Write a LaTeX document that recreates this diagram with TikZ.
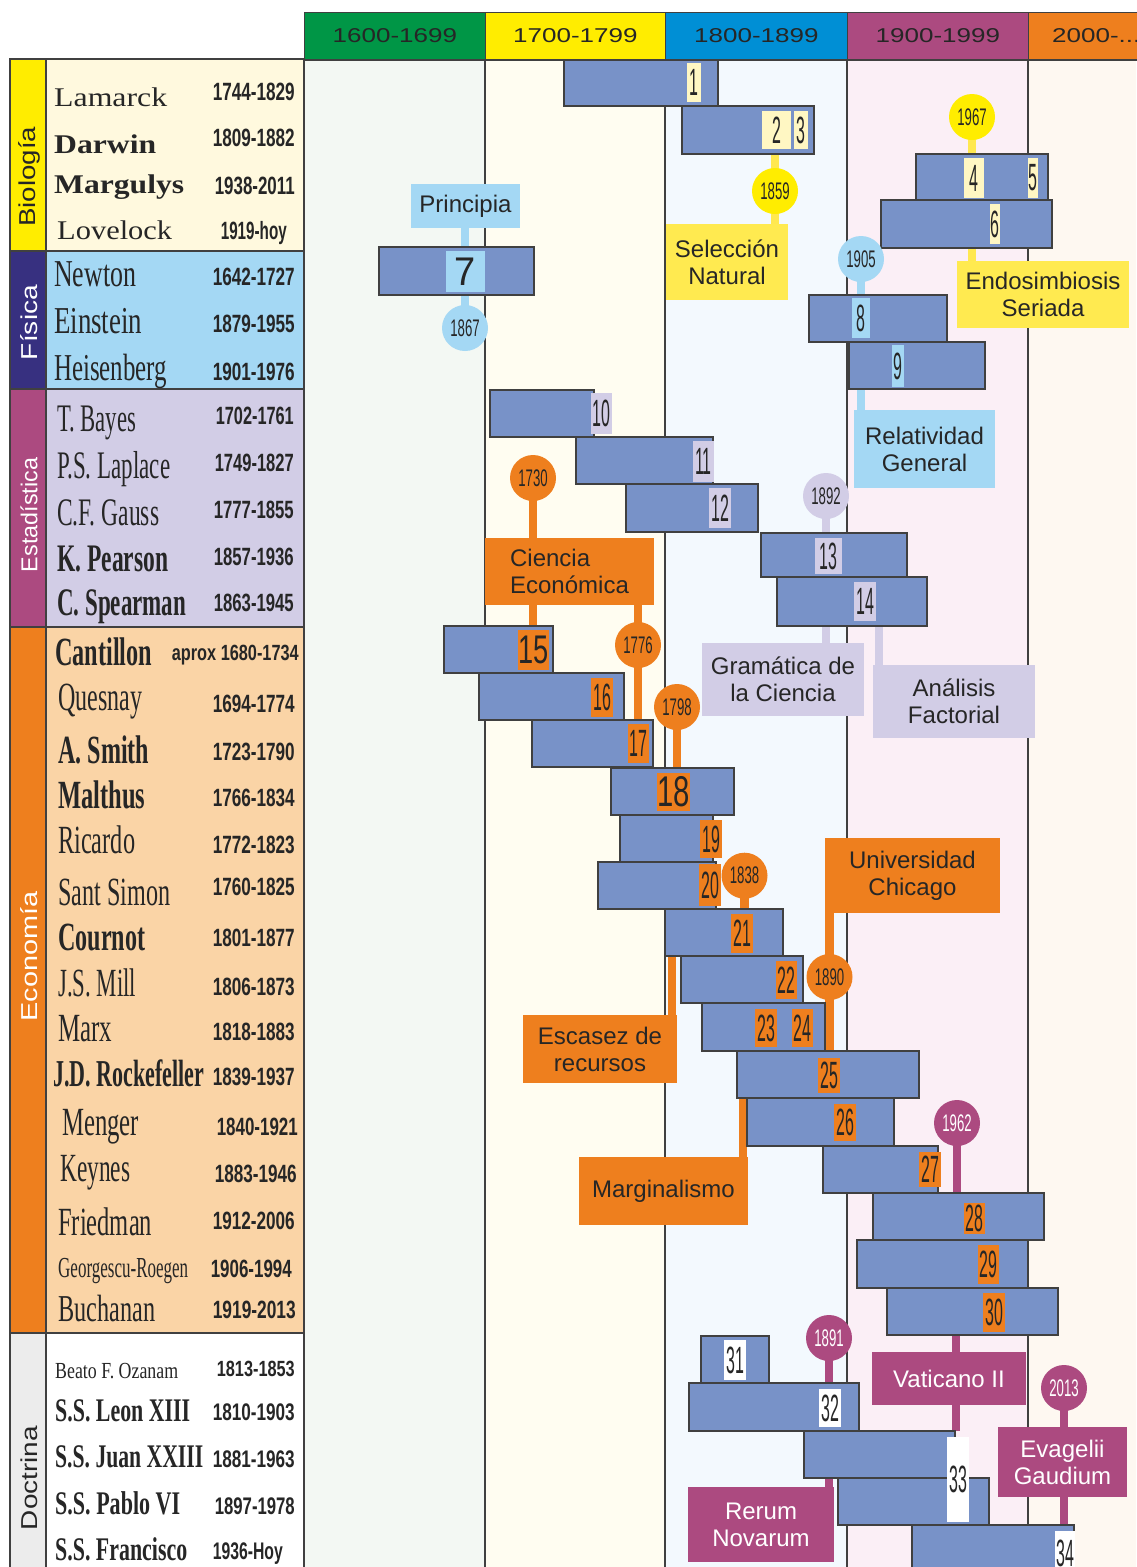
\documentclass[tikz,border=0pt]{standalone}
\usepackage{fontspec}
\setmainfont{Liberation Serif}
\setsansfont{Liberation Sans}
\usepackage{graphicx}
\definecolor{hG}{RGB}{0,150,70}
\definecolor{hY}{RGB}{255,237,0}
\definecolor{hB}{RGB}{0,143,213}
\definecolor{hP}{RGB}{172,74,128}
\definecolor{hO}{RGB}{238,127,30}
\definecolor{bgA}{RGB}{243,248,243}
\definecolor{bgB}{RGB}{255,253,241}
\definecolor{bgC}{RGB}{243,249,254}
\definecolor{bgD}{RGB}{251,239,246}
\definecolor{bgE}{RGB}{254,248,241}
\definecolor{barc}{RGB}{120,146,200}
\definecolor{bord}{RGB}{64,64,64}
\definecolor{cream}{RGB}{255,247,195}
\definecolor{lblue}{RGB}{164,216,244}
\definecolor{lav}{RGB}{210,205,230}
\definecolor{ora}{RGB}{238,127,30}
\definecolor{pur}{RGB}{172,74,128}
\definecolor{yel}{RGB}{255,237,0}
\definecolor{ybox}{RGB}{255,234,80}
\definecolor{ystem}{RGB}{255,232,80}
\definecolor{bioBg}{RGB}{255,249,222}
\definecolor{fisBar}{RGB}{55,48,128}
\definecolor{ecoBg}{RGB}{250,212,166}
\definecolor{docBar}{RGB}{236,236,236}
\definecolor{txt}{RGB}{38,38,38}
\pgfdeclarelayer{back}
\pgfdeclarelayer{stems}
\pgfsetlayers{back,stems,main}
\newcommand\boxf{\fontsize{24}{27}\selectfont\sffamily}
\tikzset{
 barst/.style={draw=bord, fill=barc, line width=1.3pt, inner sep=0pt, outer sep=0pt, anchor=north west},
 lbl/.style={inner sep=0pt, outer sep=0pt, anchor=north west, text=txt},
 boxst/.style={inner sep=0pt, outer sep=0pt, anchor=north west, align=center, text=txt, font=\boxf},
 circ/.style={circle, minimum size=46pt, inner sep=0pt, outer sep=0pt, text=txt},
 stemst/.style={line width=8.5pt},
 hcell/.style={anchor=north west, minimum height=47pt, draw=bord, line width=0.8pt, inner sep=0pt, text=txt},
 panel/.style={draw=bord, line width=1.3pt},
 colline/.style={draw=bord, line width=1.3pt},
 nmst/.style={anchor=base west, inner sep=0pt, text=txt},
 dtst/.style={anchor=base east, inner sep=0pt, text=txt},
}
\newcommand\tbar[5]{\node[barst, minimum width={(#4-#2)*1pt}, minimum height={(#5-#3)*1pt}] (#1) at (#2,#3) {};}
\newcommand\tlab[7]{\node[lbl, fill=#6, minimum width={(#4-#2)*1pt}, minimum height={(#5-#3)*1pt}] (#1) at (#2,#3) {#7};}
\newcommand\tbox[7]{\node[boxst, #6, minimum width={(#4-#2)*1pt}, minimum height={(#5-#3)*1pt}] (#1) at (#2,#3) {#7};}
\newcommand\nb[1]{\scalebox{0.42}[1]{\fontsize{38}{38}\selectfont\sffamily #1}}
\newcommand\nbig[3]{\scalebox{#1}[1]{\fontsize{#2}{#2}\selectfont\sffamily #3}}
\newcommand\yr[1]{\scalebox{0.55}[1]{\fontsize{24}{24}\selectfont\sffamily #1}}
\newcommand\htx[1]{\scalebox{1.3}[1]{\fontsize{20}{20}\selectfont\sffamily #1}}
\newcommand\nm[6]{\node[nmst] (#1) at (#2,#3) {\resizebox{#4pt}{\height}{\fontsize{#5}{#5}\selectfont #6}};}
\newcommand\dt[6]{\node[dtst] (#1) at (#2,#3) {\resizebox{#4pt}{\height}{\fontsize{#5}{#5}\selectfont\sffamily\bfseries #6}};}
\begin{document}
\begin{tikzpicture}[x=1pt,y=-1pt]
\clip (0,0) rectangle (1136,1567);
\begin{pgfonlayer}{back}
\fill[white] (0,0) rectangle (1136,1567);
\fill[bgA] (304,60) rectangle (485,1567);
\fill[bgB] (485,60) rectangle (665,1567);
\fill[bgC] (665,60) rectangle (847,1567);
\fill[bgD] (847,60) rectangle (1028,1567);
\fill[bgE] (1028,60) rectangle (1136,1567);
\draw[colline] (304,60) -- (1140,60);
\foreach \xx in {485,665,847,1028} {\draw[colline] (\xx,60) -- (\xx,1570);}
% header
\node[hcell, fill=hG, minimum width=181pt] (h1) at (304,12) {\htx{1600-1699}};
\node[hcell, fill=hY, minimum width=180pt] (h2) at (485,12) {\htx{1700-1799}};
\node[hcell, fill=hB, minimum width=182pt] (h3) at (665,12) {\htx{1800-1899}};
\node[hcell, fill=hP, minimum width=181pt] (h4) at (847,12) {\htx{1900-1999}};
\node[hcell, fill=hO, minimum width=120pt] (h5) at (1028,12) {};
\node[anchor=west, inner sep=0pt, text=txt] (h5t) at (1052,35.5) {\htx{2000-...}};
% left panel
\draw[panel, fill=yel] (10,59) rectangle (46,251);
\draw[panel, fill=bioBg] (46,59) rectangle (304,251);
\draw[panel, fill=fisBar] (10,251) rectangle (46,389);
\draw[panel, fill=lblue] (46,251) rectangle (304,389);
\draw[panel, fill=pur] (10,389) rectangle (46,627);
\draw[panel, fill=lav] (46,389) rectangle (304,627);
\draw[panel, fill=ora] (10,627) rectangle (46,1333);
\draw[panel, fill=ecoBg] (46,627) rectangle (304,1333);
\draw[panel, fill=docBar] (10,1333) rectangle (46,1572);
\draw[panel, fill=white] (46,1333) rectangle (304,1572);
\end{pgfonlayer}
% category labels
\node[rotate=90, inner sep=0pt, text=txt] (kB) at (29,176.7) {\resizebox{100pt}{\height}{\fontsize{23}{23}\selectfont\sffamily Biología}};
\node[rotate=90, inner sep=0pt, text=white] (kF) at (29,322.5) {\resizebox{75pt}{\height}{\fontsize{23}{23}\selectfont\sffamily Física}};
\node[rotate=90, inner sep=0pt, text=white] (kE) at (29,515) {\resizebox{114pt}{\height}{\fontsize{23}{23}\selectfont\sffamily Estadística}};
\node[rotate=90, inner sep=0pt, text=white] (kC) at (29,956.5) {\resizebox{130pt}{\height}{\fontsize{23}{23}\selectfont\sffamily Economía}};
\node[rotate=90, inner sep=0pt, text=txt] (kD) at (29,1478) {\resizebox{104pt}{\height}{\fontsize{23}{23}\selectfont\sffamily Doctrina}};
% names
\nm{n1}{54}{106.7}{113}{27}{Lamarck}
\nm{n2}{54}{153}{102}{27}{\bfseries Darwin}
\nm{n3}{54}{193.3}{130}{27}{\bfseries Margulys}
\nm{n4}{57}{239.3}{115}{27}{Lovelock}
\nm{n5}{54}{286.7}{82}{38}{Newton}
\nm{n6}{54}{333.3}{88}{38}{Einstein}
\nm{n7}{54}{380}{113}{38}{Heisenberg}
\nm{n8}{57}{431.7}{79}{39}{T. Bayes}
\nm{n9}{57}{478.3}{113}{39}{P.S. Laplace}
\nm{n10}{57}{525}{102}{39}{C.F. Gauss}
\nm{n11}{57}{571.7}{111}{39}{\bfseries K. Pearson}
\nm{n12}{57}{615}{129}{39}{\bfseries C. Spearman}
\nm{n13}{55}{665}{97}{40}{\bfseries Cantillon}
\nm{n14}{58}{710}{84}{40}{Quesnay}
\nm{n15}{58}{763.3}{91}{40}{\bfseries A. Smith}
\nm{n16}{58}{808.3}{87}{40}{\bfseries Malthus}
\nm{n17}{58}{853.3}{77}{40}{Ricardo}
\nm{n18}{58}{905}{112}{40}{Sant Simon}
\nm{n19}{58}{950}{87}{40}{\bfseries Cournot}
\nm{n20}{58}{996.7}{78}{40}{J.S. Mill}
\nm{n21}{58}{1041.7}{54}{40}{Marx}
\nm{n22}{53}{1086.7}{151}{38}{\bfseries J.D. Rockefeller}
\nm{n23}{62}{1135}{77}{40}{Menger}
\nm{n24}{60}{1181.7}{70}{40}{Keynes}
\nm{n25}{58}{1235}{94}{40}{Friedman}
\nm{n26}{58}{1277.3}{130}{29}{Georgescu-Roegen}
\nm{n27}{58}{1321.7}{97}{38}{Buchanan}
\nm{n28}{55}{1378}{123}{23}{Beato F. Ozanam}
\nm{n29}{55}{1421}{135}{33}{\bfseries S.S. Leon XIII}
\nm{n30}{55}{1467.5}{148}{33}{\bfseries S.S. Juan XXIII}
\nm{n31}{55}{1514.5}{125}{33}{\bfseries S.S. Pablo VI}
\nm{n32}{55}{1560}{132}{33}{\bfseries S.S. Francisco}
% dates
\dt{d1}{295}{100}{82}{25}{1744-1829}
\dt{d2}{295}{146.7}{82}{25}{1809-1882}
\dt{d3}{295}{194.3}{80}{25}{1938-2011}
\dt{d4}{287}{239.3}{66}{25}{1919-hoy}
\dt{d5}{295}{285.7}{82}{25}{1642-1727}
\dt{d6}{295}{332.7}{82}{25}{1879-1955}
\dt{d7}{295}{380}{82}{25}{1901-1976}
\dt{d8}{294}{424.3}{78}{25}{1702-1761}
\dt{d9}{294}{471}{79}{25}{1749-1827}
\dt{d10}{294}{518.3}{80}{25}{1777-1855}
\dt{d11}{294}{565}{80}{25}{1857-1936}
\dt{d12}{294}{611.7}{80}{25}{1863-1945}
\dt{d13}{299}{660.7}{127}{22}{aprox 1680-1734}
\dt{d14}{295}{712.7}{82}{25}{1694-1774}
\dt{d15}{295}{760}{82}{25}{1723-1790}
\dt{d16}{295}{806.7}{82}{25}{1766-1834}
\dt{d17}{295}{853.3}{82}{25}{1772-1823}
\dt{d18}{295}{895}{82}{25}{1760-1825}
\dt{d19}{295}{946.7}{82}{25}{1801-1877}
\dt{d20}{295}{995}{82}{25}{1806-1873}
\dt{d21}{295}{1040}{82}{25}{1818-1883}
\dt{d22}{295}{1085}{82}{25}{1839-1937}
\dt{d23}{298}{1135.7}{81}{25}{1840-1921}
\dt{d24}{297}{1182.3}{82}{25}{1883-1946}
\dt{d25}{295}{1229.3}{82}{25}{1912-2006}
\dt{d26}{292}{1277.3}{81}{25}{1906-1994}
\dt{d27}{296}{1318.3}{83}{25}{1919-2013}
\dt{d28}{295}{1376}{78}{22}{1813-1853}
\dt{d29}{295}{1420}{82}{24}{1810-1903}
\dt{d30}{295}{1467}{82}{24}{1881-1963}
\dt{d31}{295}{1514}{80}{24}{1897-1978}
\dt{d32}{283}{1559}{70}{24}{1936-Hoy}
% bars
\tbar{b1}{564}{60}{718}{106}
\tbar{b23}{682}{106}{814}{154}
\tbar{b45}{916}{154}{1048}{200}
\tbar{b6}{881}{200}{1052}{248}
\tbar{b7}{379}{247}{534}{295}
\tbar{b8}{809}{295}{947}{342}
\tbar{b9}{849}{342}{985}{389}
\tbar{b10}{490}{390}{594}{437}
\tbar{b11}{576}{437}{713}{484}
\tbar{b12}{626}{484}{758}{532}
\tbar{b13}{761}{533}{907}{577}
\tbar{b14}{777}{577}{927}{626}
\tbar{b15}{444}{626}{553}{673}
\tbar{b16}{479}{673}{624}{720}
\tbar{b17}{532}{720}{653}{767}
\tbar{b18}{611}{768}{734}{815}
\tbar{b19}{620}{815}{713}{862}
\tbar{b20}{598}{862}{716}{909}
\tbar{b21}{665}{909}{783}{956}
\tbar{b22}{681}{956}{803}{1003}
\tbar{b2324}{702}{1003}{825}{1051}
\tbar{b25}{737}{1051}{919}{1098}
\tbar{b26}{747}{1098}{894}{1146}
\tbar{b27}{823}{1146}{938}{1193}
\tbar{b28}{873}{1193}{1044}{1240}
\tbar{b29}{857}{1240}{1028}{1288}
\tbar{b30}{887}{1288}{1058}{1335}
\tbar{b31}{701}{1336}{769}{1383}
\tbar{b32}{689}{1383}{859}{1431}
\tbar{b33a}{804}{1431}{955}{1478}
\tbar{b33b}{838}{1478}{989}{1525}
\tbar{b34}{912}{1525}{1074}{1580}
% labels
\tlab{l1}{687}{63}{701}{102}{cream}{\nb{1}}
\tlab{l2}{762}{111}{791}{149}{cream}{\nb{2}}
\tlab{l3}{794}{111}{808}{149}{cream}{\nb{3}}
\tlab{l4}{964}{158}{984}{198}{cream}{\nb{4}}
\tlab{l5}{1028}{158}{1038}{198}{cream}{\nb{5}}
\tlab{l6}{990}{204}{1000}{244}{cream}{\nb{6}}
\tlab{l7}{446}{251}{485}{292}{lblue}{\nbig{0.95}{40}{7}}
\tlab{l8}{852}{298}{870}{338}{lblue}{\nb{8}}
\tlab{l9}{892}{345}{904}{387}{lblue}{\nb{9}}
\tlab{l10}{591}{393}{612}{434}{lav}{\nb{10}}
\tlab{l11}{693}{441}{714}{482}{lav}{\nb{11}}
\tlab{l12}{709}{488}{731}{528}{lav}{\nb{12}}
\tlab{l13}{815}{538}{842}{574}{lav}{\nb{13}}
\tlab{l14}{854}{582}{876}{621}{lav}{\nb{14}}
\tlab{l15}{518}{630}{549}{670}{ora}{\nbig{0.68}{40}{15}}
\tlab{l16}{591}{678}{613}{717}{ora}{\nb{16}}
\tlab{l17}{628}{724}{649}{763}{ora}{\nb{17}}
\tlab{l18}{657}{773}{689}{811}{ora}{\nbig{0.68}{43}{18}}
\tlab{l19}{700}{820}{722}{858}{ora}{\nb{19}}
\tlab{l20}{699}{864}{721}{906}{ora}{\nb{20}}
\tlab{l21}{731}{914}{753}{953}{ora}{\nb{21}}
\tlab{l22}{776}{961}{797}{999}{ora}{\nb{22}}
\tlab{l23}{755}{1009}{777}{1047}{ora}{\nb{23}}
\tlab{l24}{792}{1009}{813}{1047}{ora}{\nb{24}}
\tlab{l25}{818}{1058}{840}{1093}{ora}{\nb{25}}
\tlab{l26}{834}{1104}{856}{1141}{ora}{\nb{26}}
\tlab{l27}{919}{1152}{941}{1187}{ora}{\nb{27}}
\tlab{l28}{964}{1203}{985}{1234}{ora}{\nb{28}}
\tlab{l29}{978}{1245}{999}{1284}{ora}{\nb{29}}
\tlab{l30}{983}{1293}{1005}{1332}{ora}{\nb{30}}
\tlab{l31}{724}{1340}{746}{1380}{white}{\nb{31}}
\tlab{l32}{819}{1389}{841}{1427}{white}{\nb{32}}
\tlab{l33}{947}{1437}{969}{1522}{white}{\nb{33}}
\tlab{l34}{1055}{1531}{1075}{1575}{white}{\nb{34}}
% boxes
\tbox{prin}{411}{184}{520}{228}{fill=lblue}{Principia}
\tbox{sel}{666}{224}{788}{300}{fill=ybox}{Selección\\Natural}
\tbox{endo}{957}{261}{1129}{328}{fill=ybox}{Endosimbiosis\\Seriada}
\tbox{rel}{854}{410}{995}{488}{fill=lblue}{Relatividad\\General}
\tbox{cien}{485}{538}{654}{605}{fill=ora, align=left}{Ciencia\\Económica}
\tbox{gram}{702}{643}{864}{716}{fill=lav}{Gramática de\\la Ciencia}
\tbox{anal}{873}{665}{1035}{738}{fill=lav}{Análisis\\Factorial}
\tbox{univ}{825}{838}{1000}{913}{fill=ora}{Universidad\\Chicago}
\tbox{esc}{523}{1015}{677}{1083}{fill=ora}{Escasez de\\recursos}
\tbox{marg}{579}{1157}{748}{1225}{fill=ora}{Marginalismo}
\tbox{vat}{872}{1352}{1026}{1405}{fill=pur, text=white}{Vaticano II}
\tbox{rer}{688}{1487}{834}{1562}{fill=pur, text=white}{Rerum\\Novarum}
\tbox{evg}{998}{1427}{1127}{1497}{fill=pur, text=white}{Evagelii\\Gaudium}
% circles
\node[circ, fill=lblue] (c1867) at (465,328) {\yr{1867}};
\node[circ, fill=yel] (c1859) at (775,191) {\yr{1859}};
\node[circ, fill=yel] (c1967) at (972,117) {\yr{1967}};
\node[circ, fill=lblue] (c1905) at (861,259) {\yr{1905}};
\node[circ, fill=lav] (c1892) at (826,496) {\yr{1892}};
\node[circ, fill=ora] (c1730) at (533,478) {\yr{1730}};
\node[circ, fill=ora] (c1776) at (638,645) {\yr{1776}};
\node[circ, fill=ora] (c1798) at (677,707) {\yr{1798}};
\node[circ, fill=ora] (c1838) at (744.5,875.7) {\yr{1838}};
\node[circ, fill=ora] (c1890) at (829.5,977) {\yr{1890}};
\node[circ, fill=pur, text=white] (c1962) at (957,1123) {\yr{1962}};
\node[circ, fill=pur, text=white] (c1891) at (829,1338) {\yr{1891}};
\node[circ, fill=pur, text=white] (c2013) at (1064,1388) {\yr{2013}};
\coordinate (ax) at (879,626);
\coordinate (ex) at (672,956);
\coordinate (mx) at (743,1098);
\coordinate (vx) at (956,1335);
% stems
\begin{pgfonlayer}{stems}
\draw[stemst, ystem] (b23.south -| c1859) -- (sel.north -| c1859);
\draw[stemst, ystem] (c1967.center) -- (b45.north -| c1967);
\draw[stemst, ystem] (b6.south -| c1967) -- (endo.north -| c1967);
\draw[stemst, lblue] (prin.south -| c1867) -- (c1867.center);
\draw[stemst, lblue] (c1905.center) -- (b8.north -| c1905);
\draw[stemst, lblue] (b9.south -| c1905) -- (rel.north -| c1905);
\draw[stemst, lav] (c1892.center) -- (b13.north -| c1892);
\draw[stemst, lav] (b14.south -| c1892) -- (gram.north -| c1892);
\draw[stemst, lav] (ax) -- (ax |- anal.north);
\draw[stemst, ora] (c1730.center) -- (cien.north -| c1730);
\draw[stemst, ora] (cien.south -| c1730) -- (b15.north -| c1730);
\draw[stemst, ora] (cien.south -| c1776) -- (b17.north -| c1776);
\draw[stemst, ora] (c1798.center) -- (b18.north -| c1798);
\draw[stemst, ora] (c1838.center) -- (b21.north -| c1838);
\draw[stemst, ora] (ex) -- (ex |- esc.north);
\draw[stemst, ora] (univ.south -| c1890) -- (b25.north -| c1890);
\draw[stemst, ora] (mx) -- (mx |- marg.north);
\draw[stemst, pur] (c1962.center) -- (b28.north -| c1962);
\draw[stemst, pur] (vx) -- (vx |- b33a.north);
\draw[stemst, pur] (c1891.center) -- (b32.north -| c1891);
\draw[stemst, pur] (b32.south -| c1891) -- (rer.north -| c1891);
\draw[stemst, pur] (c2013.center) -- (b34.north -| c2013);
\end{pgfonlayer}
\end{tikzpicture}
\end{document}
